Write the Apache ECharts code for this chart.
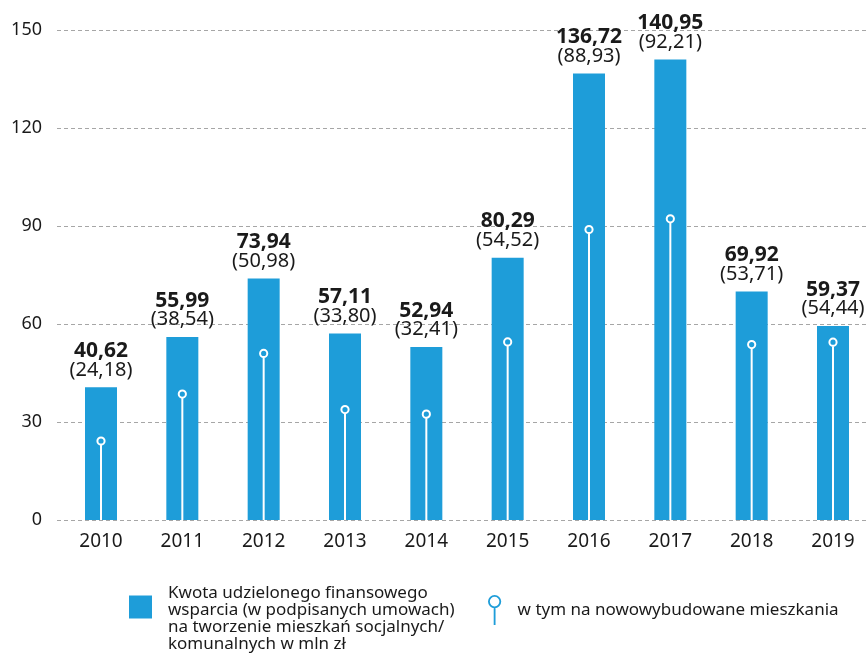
<!DOCTYPE html>
<html>
<head>
<meta charset="utf-8">
<script src="https://cdn.jsdelivr.net/npm/echarts@6/dist/echarts.min.js"></script>
<style>
  html, body { margin: 0; padding: 0; background: #fff; }
  #chart { width: 866px; height: 653px; }
</style>
</head>
<body>
<div id="chart"></div>
<script>
// dane z wykresu
const years = ['2010', '2011', '2012', '2013', '2014', '2015', '2016', '2017', '2018', '2019'];
const totalSupport = [40.62, 55.99, 73.94, 57.11, 52.94, 80.29, 136.72, 140.95, 69.92, 59.37];
const newBuildings = [24.18, 38.54, 50.98, 33.80, 32.41, 54.52, 88.93, 92.21, 53.71, 54.44];
const yTicks = [0, 30, 60, 90, 120, 150];

const barColor = '#1e9dd9';
const textColor = '#1a1a1a';
const fontFamily = 'Noto Sans';

const fmt = v => v.toFixed(2).replace('.', ',');

const legendLines = [
  'Kwota udzielonego finansowego',
  'wsparcia (w podpisanych umowach)',
  'na tworzenie mieszkań socjalnych/',
  'komunalnych w mln zł'
];

const chart = echarts.init(document.getElementById('chart'));

const option = {
  animation: false,
  textStyle: { fontFamily: fontFamily, color: textColor },
  // grid 0: siatka i oś Y, grid 1: słupki
  grid: [
    { left: 57, right: 0, top: 30, height: 490 },
    { left: 101, right: 33, top: 30, height: 490 }
  ],
  legend: [
    {
      left: 129,
      top: 568,
      padding: 0,
      itemWidth: 45,
      itemHeight: 23,
      data: [{ name: 'kwota', icon: 'path://M0,0L23,0L23,23L0,23Z' }],
      formatter: () => '{pad| }\n' + legendLines.map(l => '{t|' + l + '}').join('\n'),
      textStyle: {
        color: textColor,
        fontFamily: fontFamily,
        rich: {
          pad: { fontSize: 10, lineHeight: 24 },
          t: { fontSize: 17, lineHeight: 17, color: textColor, fontFamily: fontFamily }
        }
      },
      selectedMode: false
    },
    {
      left: 488,
      top: 595,
      padding: 0,
      itemWidth: 36,
      itemHeight: 30,
      data: [{
        name: 'nowe',
        icon: 'path://M0.5,7A6.5,6.5 0 1,1 13.5,7A6.5,6.5 0 1,1 0.5,7Z M2.3,7A4.7,4.7 0 1,0 11.7,7A4.7,4.7 0 1,0 2.3,7Z M6.1,13.4L7.9,13.4L7.9,30L6.1,30Z'
      }],
      formatter: () => 'w tym na nowowybudowane mieszkania',
      textStyle: { fontSize: 17, color: textColor, fontFamily: fontFamily },
      selectedMode: false
    }
  ],
  xAxis: [
    {
      gridIndex: 0,
      type: 'value',
      show: false
    },
    {
      gridIndex: 1,
      type: 'category',
      data: years,
      boundaryGap: false,
      axisLine: { show: false },
      axisTick: { show: false },
      axisLabel: { fontSize: 19, color: textColor, margin: 12 }
    }
  ],
  yAxis: [
    {
      gridIndex: 0,
      type: 'value',
      min: yTicks[0],
      max: yTicks[yTicks.length - 1],
      interval: 30,
      axisLine: { show: false },
      axisTick: { show: false },
      axisLabel: { fontSize: 18, color: textColor, margin: 15 },
      splitLine: { lineStyle: { color: '#a6a6a6', type: [4, 3], width: 1 } }
    },
    {
      gridIndex: 1,
      type: 'value',
      min: yTicks[0],
      max: yTicks[yTicks.length - 1],
      interval: 30,
      show: false,
      splitLine: { show: false }
    }
  ],
  series: [
    {
      name: 'kwota',
      type: 'bar',
      xAxisIndex: 1,
      yAxisIndex: 1,
      clip: false,
      data: totalSupport,
      barWidth: 32,
      itemStyle: { color: barColor },
      label: {
        show: true,
        position: 'top',
        distance: 8,
        formatter: p => '{v|' + fmt(totalSupport[p.dataIndex]) + '}\n{s|(' + fmt(newBuildings[p.dataIndex]) + ')}',
        rich: {
          v: { fontSize: 21, fontWeight: 'bold', lineHeight: 19, color: textColor, fontFamily: fontFamily },
          s: { fontSize: 20, lineHeight: 19, color: textColor, fontFamily: fontFamily }
        }
      }
    },
    {
      name: 'nowe',
      type: 'custom',
      xAxisIndex: 1,
      yAxisIndex: 1,
      clip: false,
      itemStyle: { color: barColor },
      data: newBuildings.map((v, i) => [i, v]),
      encode: { x: 0, y: 1 },
      z: 5,
      renderItem: (params, api) => {
        const base = api.coord([api.value(0), 0]);
        const top = api.coord([api.value(0), api.value(1)]);
        return {
          type: 'group',
          children: [
            {
              type: 'line',
              shape: { x1: base[0], y1: base[1], x2: top[0], y2: top[1] + 4 },
              style: { stroke: '#fff', lineWidth: 2 }
            },
            {
              type: 'circle',
              shape: { cx: top[0], cy: top[1], r: 3.6 },
              style: { fill: barColor, stroke: '#fff', lineWidth: 2 }
            }
          ]
        };
      }
    }
  ]
};

chart.setOption(option);
</script>
</body>
</html>
